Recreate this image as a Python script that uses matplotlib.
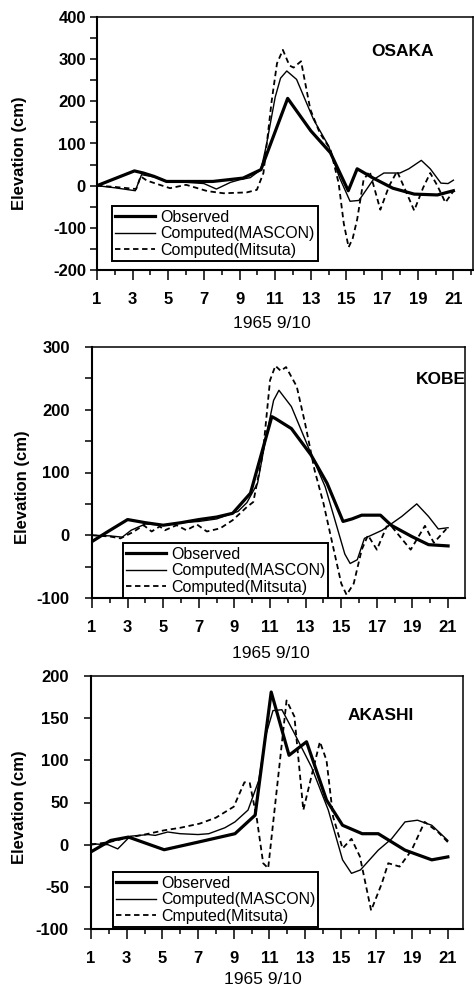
import matplotlib
matplotlib.use("Agg")
from matplotlib import pyplot as plt
from matplotlib.ticker import MultipleLocator

plt.rcParams['font.family'] = ['Liberation Sans', 'DejaVu Sans']
plt.rcParams['axes.unicode_minus'] = False

# --- OSAKA (cm) ---
osaka_obs_x = [1, 3.1, 3.6, 4.2, 4.9, 6, 7.5, 9.2, 10.2, 10.5, 11.7, 13, 14.1, 15.1, 15.6, 16.5, 17.6, 18.8, 20.1, 21]
osaka_obs_y = [0, 35, 30, 22, 10, 10, 10, 18, 38, 72, 207, 130, 78, -12, 40, 18, -6, -20, -22, -12]
osaka_mas_x = [1, 2, 3.15, 3.5, 4.3, 5, 6, 7, 7.7, 8.5, 9.0, 9.6, 10.2, 10.5, 11.0, 11.3, 11.65, 12.2, 13.15, 14.0,
               14.6, 15.2, 15.7, 16.5, 17.1, 18.0, 18.5, 19.2, 19.7, 20.3, 20.7, 21]
osaka_mas_y = [0, -5, -12, 26, 20, 8, 8, 5, -8, 8, 14, 19, 38, 95, 210, 255, 272, 252, 157, 94,
               20, -37, -35, 14, 30, 30, 40, 60, 40, 6, 5, 13]
osaka_mit_x = [1, 2, 3.2, 3.45, 3.8, 4.3, 5.1, 6.0, 7.2, 8.1, 9.4, 9.97, 10.34, 10.8, 11.1, 11.43, 11.8, 12.03,
               12.45, 12.97, 13.5, 14.1, 14.56, 14.85, 15.12, 15.35, 15.6, 15.96, 16.3, 16.9, 17.4, 17.84, 18.3,
               18.8, 19.3, 19.7, 20.1, 20.55, 21]
osaka_mit_y = [0, -3, -8, 22, 12, 5, -6, 2, -13, -18, -16, -10, 30, 200, 290, 322, 285, 280,
               295, 181, 125, 86, 6, -90, -146, -125, -80, 14, 34, -57, 0, 34, -10,
               -59, -5, 30, 0, -40, -13]

# --- KOBE (cm) ---
kobe_obs_x = [1, 1.9, 3.0, 4.0, 5.0, 6, 7, 8, 8.9, 9.9, 10.5, 11.1, 11.3, 12.2, 13.3, 14.2, 15.1, 15.6, 16.15,
              17.2, 17.8, 18.96, 19.9, 21]
kobe_obs_y = [-10, 6, 25, 20, 16, 20, 25, 29, 35, 67, 128, 189, 186, 170, 128, 83, 22, 26, 32,
              32, 16, -2, -15, -17]
kobe_mas_x = [1, 2, 2.7, 3.2, 4, 5, 6, 7, 8, 9.2, 9.7, 10.3, 10.8, 11.2, 11.5, 12.2, 13.3, 14.1, 14.75, 15.2,
              15.5, 15.9, 16.3, 17.3, 18.4, 19.24, 19.9, 20.45, 21]
kobe_mas_y = [0, -1, -3, 8, 18, 16, 20, 22, 26, 38, 52, 83, 160, 215, 231, 205, 130, 77, 14, -30,
              -45, -39, -5, 8, 30, 50, 30, 10, 12]
kobe_mit_x = [1, 2, 2.6, 3.3, 3.9, 4.35, 4.8, 5.1, 5.75, 6.3, 6.9, 7.45, 8.2, 8.9, 9.7, 10.06, 10.6, 11.0,
              11.3, 11.6, 11.9, 12.5, 12.97, 13.5, 14.0, 14.5, 15.0, 15.3, 15.7, 16.15, 16.5, 17.0, 17.55,
              17.8, 18.9, 19.7, 20.2, 20.9]
kobe_mit_y = [0, -2, -5, 5, 16, 6, 14, 8, 16, 8, 17, 6, 11, 24, 45, 53, 131, 247,
              270, 262, 268, 237, 178, 104, 51, -13, -77, -95, -77, -23, 0, -23, 14,
              15, -23, 15, -12, 10]

# --- AKASHI (cm) ---
akashi_obs_x = [1, 2.1, 3.1, 5.1, 7, 9.07, 10.2, 11.1, 12.1, 13.08, 14.2, 15.1, 16.2, 17.1, 18.6, 20.1, 21]
akashi_obs_y = [-8.5, 5, 9, -6, 3, 13, 35, 181, 106, 122, 53, 23, 13, 13, -6.5, -18, -14.5]
akashi_mas_x = [1, 1.95, 2.5, 3.2, 4.2, 4.6, 5.3, 6, 7, 7.6, 8.5, 9.07, 9.8, 10.4, 10.8, 11.2, 11.7, 12.4,
                13.36, 14.3, 15.1, 15.6, 16.1, 17.1, 17.85, 18.6, 19.3, 20.1, 21]
akashi_mas_y = [1, 0, -5, 10, 12, 11, 15, 13, 12, 13, 20, 27, 41, 76, 130, 159, 160, 132,
                92, 41, -18, -34, -30, -6.5, 7, 27, 29, 23, 5]
akashi_mit_x = [1, 2, 3, 4, 5.1, 6, 7.1, 8, 9.0, 9.6, 9.9, 10.3, 10.65, 10.93, 11.96, 12.4, 12.9, 13.4, 13.83,
                14.2, 14.57, 15.1, 15.6, 16.07, 16.7, 17.3, 17.66, 18.3, 18.97, 19.7, 20.45, 21]
akashi_mit_y = [0, 3, 8, 12, 17, 20, 25, 32, 45, 74, 73, 30, -22, -28, 171, 152, 41, 85, 122,
                100, 33, -4.5, 7, -14, -78, -46, -22, -26, -6.5, 27, 15, 3]

x_ticks = list(range(1, 22, 2))
date_label = '1965 9/10'
label_obs = 'Observed'
label_mas = 'Computed(MASCON)'

W, H = 474, 991


def px_box(left, top, right, bottom):
    # pixel edges -> figure fractions
    return [left / W, 1 - bottom / H, (right - left) / W, (bottom - top) / H]


def draw_panel(ax, obs, mas, mit, mit_label, ylim, ystep, yminor, xmax, ypad, legend_at):
    ax.plot(*obs, color='black', lw=2.3, label=label_obs)
    ax.plot(*mas, color='black', lw=1.0, label=label_mas)
    ax.plot(*mit, color='black', lw=1.3, dashes=(3, 2), label=mit_label)

    ax.set_xlim(1, xmax)
    ax.set_ylim(*ylim)
    ax.set_xticks(x_ticks)
    ax.xaxis.set_minor_locator(MultipleLocator(1))
    ax.yaxis.set_major_locator(MultipleLocator(ystep))
    if yminor:
        ax.yaxis.set_minor_locator(MultipleLocator(yminor))

    ax.tick_params(axis='x', which='major', direction='out', length=7, width=1.1, pad=9,
                   labelsize=12)
    ax.tick_params(axis='x', which='minor', direction='out', length=3.5, width=1.1)
    ax.tick_params(axis='y', which='both', direction='out', length=5, width=1.1, pad=ypad,
                   labelsize=12)
    for lab in ax.get_xticklabels() + ax.get_yticklabels():
        lab.set_fontweight('bold')

    for side in ['left', 'bottom']:
        ax.spines[side].set_linewidth(1.5)
    for side in ['top', 'right']:
        ax.spines[side].set_linewidth(1.1)

    leg = ax.legend(loc='lower left', bbox_to_anchor=legend_at, borderaxespad=0,
                    fontsize=11.5, handlelength=2.5, handletextpad=0.3, labelspacing=0.1,
                    borderpad=0.2, fancybox=False, framealpha=1, edgecolor='black')
    leg.get_frame().set_linewidth(1.4)


fig = plt.figure(figsize=(4.74, 9.91), dpi=100)

ax1 = fig.add_axes(px_box(97, 17, 473, 270))
draw_panel(ax1, (osaka_obs_x, osaka_obs_y), (osaka_mas_x, osaka_mas_y), (osaka_mit_x, osaka_mit_y),
           'Computed(Mitsuta)', (-200, 400), 100, 50, 22.1, 3, (0.04, 0.036))

ax2 = fig.add_axes(px_box(92, 347, 465, 598))
draw_panel(ax2, (kobe_obs_x, kobe_obs_y), (kobe_mas_x, kobe_mas_y), (kobe_mit_x, kobe_mit_y),
           'Computed(Mitsuta)', (-100, 300), 100, 50, 21.95, 11, (0.083, 0.0))

ax3 = fig.add_axes(px_box(91, 676, 463, 929))
draw_panel(ax3, (akashi_obs_x, akashi_obs_y), (akashi_mas_x, akashi_mas_y), (akashi_mit_x, akashi_mit_y),
           'Cmputed(Mitsuta)', (-100, 200), 50, None, 21.85, 11, (0.059, 0.008))

# station names, axis titles
for name, (px, py) in [('OSAKA', (403, 52)), ('KOBE', (441, 379)), ('AKASHI', (381, 715))]:
    fig.text(px / W, 1 - py / H, name, ha='center', va='center', fontsize=12.5, fontweight='bold')

for px, py in [(20, 153), (23, 487), (20, 807)]:
    fig.text(px / W, 1 - py / H, 'Elevation (cm)', ha='center', va='center', rotation=90,
             fontsize=12, fontweight='bold')

for px, py in [(272, 323), (271, 653), (263, 980)]:
    fig.text(px / W, 1 - py / H, date_label, ha='center', va='center', fontsize=12.5)

fig.savefig('out.png', dpi=100)
